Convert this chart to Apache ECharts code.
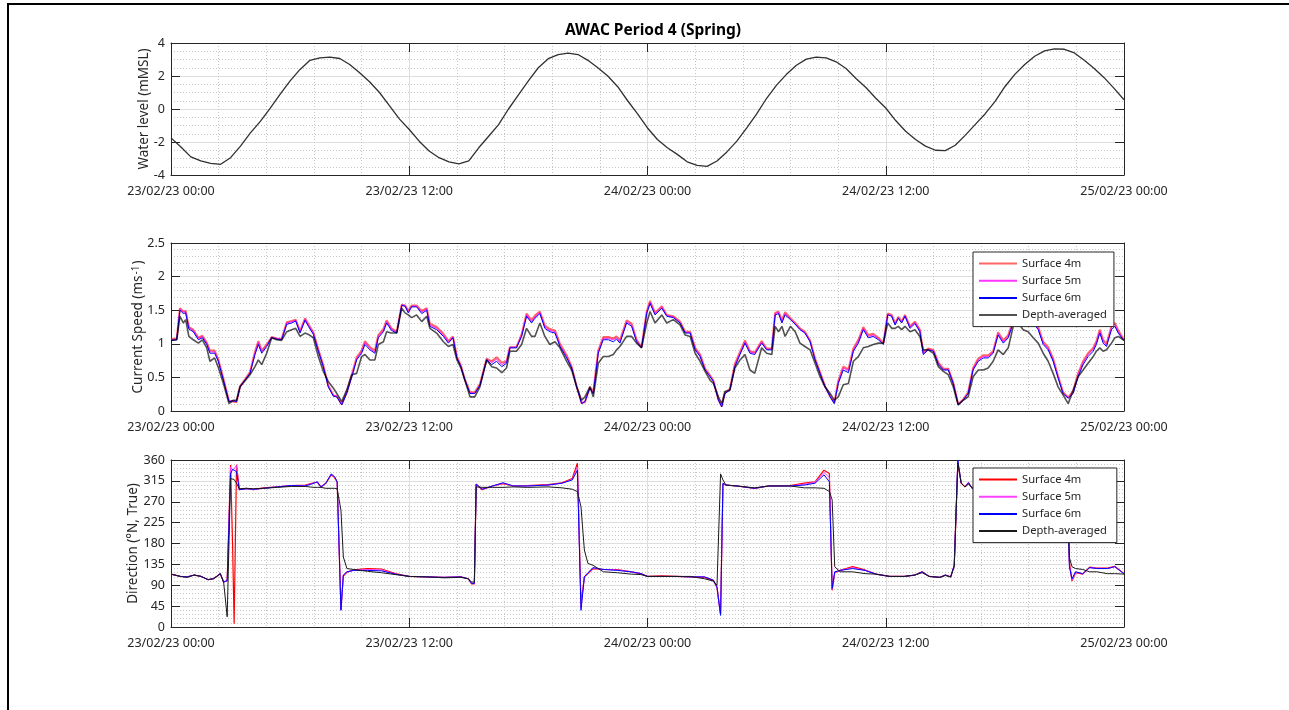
<!DOCTYPE html>
<html><head><meta charset="utf-8">
<script src="https://cdn.jsdelivr.net/npm/echarts@6/dist/echarts.min.js"></script>
<style>html,body{margin:0;padding:0;background:#fff}#c{width:1289px;height:710px}</style>
</head><body><div id="c"></div>
<script>
// ---------- DATA ----------
const titleText = 'AWAC Period 4 (Spring)';
const xTickLabels = ['23/02/23 00:00','23/02/23 12:00','24/02/23 00:00','24/02/23 12:00','25/02/23 00:00'];
const seriesNames = ['Surface 4m','Surface 5m','Surface 6m','Depth-averaged'];

// hours since 23/02/23 00:00
const levelHours = [0,0.5,1,1.5,2,2.5,3,3.5,4,4.5,5,5.5,6,6.5,7,7.5,8,8.5,9,9.5,
 10,10.5,11,11.5,12,12.5,13,13.5,14,14.5,15,15.5,16,16.5,17,17.5,18,18.5,19,19.5,
 20,20.5,21,21.5,22,22.5,23,23.5,24,24.5,25,25.5,26,26.5,27,27.5,28,28.5,29,29.5,
 30,30.5,31,31.5,32,32.5,33,33.5,34,34.5,35,35.5,36,36.5,37,37.5,38,38.5,39,39.5,
 40,40.5,41,41.5,42,42.5,43,43.5,44,44.5,45,45.5,46,46.5,47,47.5,48];
const waterLevel = [-1.75,-2.3,-2.9,-3.15,-3.3,-3.35,-2.95,-2.25,-1.45,-0.75,
 0.05,0.9,1.7,2.4,2.95,3.1,3.15,3.06,2.7,2.2,
 1.65,1.0,0.2,-0.6,-1.24,-1.95,-2.55,-2.95,-3.2,-3.32,
 -3.15,-2.35,-1.65,-0.95,0.0,0.85,1.7,2.5,3.05,3.3,
 3.38,3.3,2.95,2.5,2.0,1.35,0.5,-0.3,-1.15,-1.85,
 -2.35,-2.75,-3.2,-3.42,-3.48,-3.15,-2.6,-1.95,-1.15,-0.3,
 0.65,1.45,2.1,2.65,3.02,3.15,3.1,2.86,2.45,1.85,
 1.3,0.65,0.06,-0.7,-1.35,-1.85,-2.25,-2.5,-2.52,-2.2,
 -1.6,-0.95,-0.3,0.45,1.35,2.1,2.7,3.2,3.52,3.65,
 3.62,3.4,2.95,2.45,1.9,1.25,0.56];

const speedHours = [0,0.29,0.45,0.62,0.74,0.9,1.12,1.38,1.58,1.8,
 1.96,2.2,2.38,2.64,2.92,3.14,3.3,3.48,3.73,3.98,
 4.23,4.4,4.57,4.82,5.07,5.32,5.57,5.83,6.08,6.28,
 6.5,6.75,6.92,7.17,7.42,7.67,7.92,8.18,8.35,8.6,
 8.85,9.1,9.35,9.6,9.77,10.02,10.27,10.44,10.7,10.86,
 11.1,11.37,11.62,11.79,11.95,12.12,12.37,12.63,12.88,13.04,
 13.38,13.72,13.97,14.2,14.4,14.6,14.8,15.06,15.3,15.56,
 15.9,16.15,16.4,16.66,16.9,17.07,17.4,17.66,17.91,18.16,
 18.33,18.58,18.83,19.08,19.34,19.59,19.93,20.18,20.43,20.68,
 20.85,21.1,21.27,21.52,21.77,22.03,22.28,22.44,22.61,22.95,
 23.2,23.45,23.7,23.96,24.13,24.38,24.72,24.97,25.3,25.64,
 25.9,26.15,26.4,26.65,26.9,27.15,27.32,27.57,27.74,27.9,
 28.15,28.4,28.66,28.91,29.16,29.4,29.75,30,30.26,30.43,
 30.6,30.77,30.93,31.2,31.44,31.68,31.93,32.19,32.44,32.69,
 32.94,33.2,33.41,33.61,33.86,34.12,34.37,34.62,34.87,35.12,
 35.37,35.63,35.88,36.1,36.3,36.47,36.63,36.8,36.97,37.22,
 37.47,37.72,37.89,38.14,38.4,38.65,38.9,39.15,39.4,39.65,
 39.9,40.15,40.4,40.66,40.91,41.16,41.41,41.66,41.92,42.17,
 42.42,42.67,42.92,43.17,43.43,43.68,43.93,44.18,44.43,44.68,
 44.93,45.19,45.44,45.69,45.94,46.19,46.45,46.61,46.78,46.95,
 47.12,47.37,47.54,47.71,47.96,48];
const speed4m = [1.07,1.08,1.53,1.48,1.49,1.25,1.21,1.09,1.12,1.02,
 0.90,0.90,0.77,0.48,0.15,0.14,0.13,0.37,0.47,0.58,
 0.88,1.04,0.90,0.99,1.10,1.08,1.07,1.32,1.34,1.36,
 1.19,1.38,1.29,1.17,0.92,0.68,0.38,0.23,0.22,0.10,
 0.28,0.53,0.80,0.90,1.04,0.95,0.90,1.13,1.22,1.35,
 1.23,1.18,1.58,1.57,1.49,1.57,1.57,1.49,1.53,1.30,
 1.25,1.15,1.04,1.11,0.81,0.68,0.47,0.28,0.28,0.40,
 0.78,0.74,0.80,0.72,0.74,0.95,0.95,1.14,1.45,1.35,
 1.42,1.48,1.27,1.22,1.20,1.00,0.83,0.66,0.37,0.12,
 0.13,0.36,0.28,0.90,1.10,1.10,1.08,1.11,1.05,1.35,
 1.30,1.06,0.95,1.48,1.64,1.46,1.56,1.43,1.41,1.33,
 1.18,1.18,0.94,0.84,0.63,0.53,0.45,0.17,0.07,0.27,
 0.33,0.70,0.88,1.05,0.89,0.87,1.04,0.93,0.93,1.46,
 1.48,1.35,1.47,1.38,1.31,1.23,1.18,1.05,0.78,0.58,
 0.37,0.22,0.12,0.45,0.66,0.62,0.93,1.06,1.25,1.13,
 1.15,1.09,1.01,1.45,1.43,1.30,1.40,1.33,1.43,1.26,
 1.33,1.21,0.87,0.93,0.91,0.72,0.63,0.63,0.42,0.10,
 0.17,0.28,0.64,0.78,0.83,0.83,0.89,1.17,1.05,1.13,
 1.35,1.44,1.42,1.30,1.35,1.25,1.03,0.95,0.78,0.52,
 0.28,0.20,0.30,0.56,0.74,0.86,0.94,1.04,1.21,1.06,
 1.00,1.26,1.31,1.20,1.08,1.07];
const speed5m = [1.06,1.07,1.52,1.47,1.48,1.24,1.20,1.08,1.11,1.01,
 0.88,0.88,0.76,0.47,0.15,0.15,0.14,0.37,0.47,0.57,
 0.86,1.02,0.88,0.98,1.10,1.08,1.07,1.31,1.33,1.35,
 1.18,1.37,1.28,1.16,0.91,0.67,0.37,0.23,0.22,0.10,
 0.27,0.52,0.78,0.88,1.02,0.93,0.88,1.11,1.20,1.33,
 1.22,1.17,1.58,1.57,1.48,1.56,1.56,1.47,1.52,1.28,
 1.23,1.13,1.03,1.10,0.80,0.67,0.47,0.27,0.27,0.39,
 0.77,0.72,0.77,0.69,0.73,0.95,0.95,1.13,1.43,1.33,
 1.40,1.47,1.25,1.20,1.18,0.98,0.81,0.65,0.37,0.12,
 0.14,0.35,0.27,0.88,1.08,1.08,1.06,1.09,1.03,1.33,
 1.28,1.05,0.95,1.47,1.62,1.45,1.55,1.42,1.40,1.32,
 1.17,1.17,0.93,0.83,0.62,0.52,0.45,0.17,0.07,0.27,
 0.32,0.68,0.86,1.03,0.88,0.86,1.03,0.92,0.92,1.45,
 1.47,1.33,1.45,1.37,1.30,1.22,1.17,1.04,0.77,0.57,
 0.37,0.22,0.12,0.43,0.64,0.60,0.91,1.04,1.23,1.11,
 1.13,1.08,1.00,1.44,1.42,1.29,1.39,1.32,1.42,1.25,
 1.32,1.20,0.86,0.92,0.90,0.71,0.62,0.62,0.42,0.10,
 0.17,0.27,0.63,0.76,0.81,0.81,0.88,1.15,1.03,1.11,
 1.33,1.42,1.40,1.28,1.33,1.23,1.01,0.93,0.76,0.51,
 0.27,0.20,0.28,0.54,0.72,0.84,0.92,1.02,1.19,1.04,
 0.98,1.24,1.29,1.18,1.07,1.06];
const speed6m = [1.05,1.06,1.50,1.45,1.46,1.22,1.18,1.06,1.09,0.99,
 0.86,0.86,0.74,0.46,0.14,0.15,0.14,0.36,0.46,0.56,
 0.84,0.99,0.86,0.96,1.09,1.07,1.06,1.29,1.31,1.34,
 1.16,1.35,1.26,1.14,0.89,0.66,0.36,0.22,0.21,0.09,
 0.26,0.50,0.76,0.86,0.99,0.91,0.86,1.09,1.18,1.31,
 1.20,1.16,1.57,1.56,1.46,1.55,1.55,1.45,1.50,1.26,
 1.21,1.11,1.01,1.09,0.79,0.66,0.46,0.26,0.26,0.38,
 0.76,0.69,0.74,0.66,0.71,0.94,0.94,1.11,1.41,1.31,
 1.38,1.45,1.23,1.18,1.16,0.96,0.79,0.64,0.36,0.11,
 0.14,0.34,0.26,0.86,1.06,1.06,1.03,1.07,1.01,1.31,
 1.26,1.03,0.94,1.45,1.60,1.43,1.53,1.41,1.39,1.31,
 1.16,1.16,0.91,0.81,0.61,0.51,0.44,0.16,0.06,0.26,
 0.31,0.66,0.84,1.01,0.86,0.84,1.01,0.91,0.91,1.43,
 1.45,1.31,1.43,1.36,1.29,1.21,1.16,1.03,0.76,0.56,
 0.36,0.21,0.11,0.41,0.61,0.57,0.89,1.01,1.21,1.09,
 1.11,1.06,0.99,1.43,1.41,1.28,1.38,1.31,1.41,1.23,
 1.30,1.18,0.84,0.91,0.89,0.69,0.61,0.61,0.41,0.09,
 0.16,0.26,0.61,0.74,0.79,0.79,0.86,1.13,1.01,1.09,
 1.31,1.40,1.38,1.26,1.31,1.21,0.99,0.91,0.74,0.49,
 0.26,0.19,0.26,0.51,0.69,0.81,0.89,0.99,1.16,1.01,
 0.96,1.21,1.26,1.16,1.06,1.05];
const speedAvg = [1.05,1.06,1.41,1.31,1.36,1.11,1.06,1.01,1.06,0.94,
 0.74,0.79,0.65,0.41,0.11,0.16,0.16,0.36,0.45,0.54,
 0.66,0.76,0.69,0.86,1.09,1.06,1.05,1.18,1.21,1.23,
 1.11,1.16,1.14,1.09,0.81,0.59,0.44,0.34,0.26,0.14,
 0.31,0.54,0.56,0.81,0.84,0.76,0.76,0.99,1.03,1.18,
 1.16,1.16,1.53,1.46,1.43,1.39,1.43,1.33,1.41,1.23,
 1.16,1.03,0.96,0.99,0.76,0.64,0.46,0.21,0.21,0.36,
 0.76,0.66,0.64,0.57,0.64,0.89,0.89,0.99,1.23,1.11,
 1.11,1.31,1.11,0.99,1.03,0.94,0.74,0.61,0.36,0.16,
 0.21,0.36,0.21,0.71,0.81,0.81,0.84,0.91,0.96,1.11,
 1.11,1.01,0.94,1.31,1.48,1.31,1.43,1.31,1.36,1.28,
 1.13,1.11,0.86,0.74,0.59,0.46,0.41,0.21,0.11,0.29,
 0.31,0.64,0.76,0.84,0.61,0.56,0.94,0.86,0.84,1.26,
 1.18,1.26,1.11,1.26,1.18,1.01,0.96,0.91,0.71,0.51,
 0.36,0.26,0.16,0.21,0.39,0.41,0.74,0.81,0.94,0.96,
 0.99,1.01,1.01,1.31,1.23,1.23,1.26,1.21,1.26,1.18,
 1.21,1.11,0.91,0.91,0.86,0.66,0.59,0.54,0.36,0.09,
 0.16,0.21,0.51,0.61,0.61,0.64,0.74,0.91,0.84,0.94,
 1.26,1.31,1.21,1.18,1.09,1.01,0.86,0.74,0.56,0.36,
 0.24,0.11,0.31,0.51,0.61,0.71,0.81,0.89,0.94,0.89,
 0.91,1.01,1.09,1.11,1.06,1.05];

const dirHours = [0,0.47,0.82,1.17,1.52,1.87,2.13,2.3,2.48,2.65,
 2.83,3.0,3.1,3.18,3.3,3.44,3.79,4.14,4.66,5.36,
 6.06,6.76,7.2,7.37,7.55,7.8,8.07,8.24,8.37,8.45,
 8.56,8.68,8.86,9.2,9.9,10.6,11.3,12,12.87,13.75,
 14.6,14.97,15.14,15.28,15.37,15.67,16.2,16.72,17.24,17.94,
 18.99,19.69,20.21,20.47,20.65,20.82,21.0,21.26,21.78,22.48,
 23.18,23.67,24,24.72,25.44,26.16,26.87,27.32,27.5,27.68,
 27.8,27.95,28.5,29.39,30.1,31.19,31.9,32.44,32.89,33.16,
 33.3,33.43,33.7,34.33,34.96,35.5,36.2,36.93,37.47,37.83,
 38.19,38.73,39.0,39.27,39.45,39.63,39.8,39.99,40.17,40.35,
 41,42,43,44,45,45.15,45.25,45.38,45.56,45.92,
 46.27,46.63,47.17,47.53,48];
const dir4m = [114,109,108,112,109,102,104,109,115,97,
 100,349,180,7,350,296,299,296,300,302,
 305,306,311,312,302,310,328,322,312,310,
 38,110,118,123,126,125,115,109,108,107,
 108,104,93,93,308,296,304,309,304,305,
 307,311,320,353,50,108,115,126,124,124,
 119,115,109,110,109,108,107,100,85,28,
 308,306,304,299,304,305,310,313,338,331,
 79,117,122,130,123,114,109,109,112,119,
 109,107,112,108,133,353,310,302,311,299,
 302,305,303,306,300,298,140,99,117,114,
 129,127,127,131,115];
const dir5m = [114,109,108,112,109,102,104,109,115,97,
 100,345,338,340,348,296,298,296,299,302,
 305,305,310,313,302,310,329,323,313,311,
 37,111,119,122,124,123,114,109,108,107,
 108,104,94,94,308,297,304,310,304,304,
 306,310,318,345,42,108,116,127,124,123,
 119,115,109,109,109,108,108,101,86,26,
 309,306,304,299,304,304,308,312,333,322,
 81,118,122,128,122,114,109,109,112,119,
 109,107,112,108,133,356,310,302,311,299,
 302,305,303,306,300,298,135,101,118,115,
 128,127,126,130,115];
const dir6m = [114,109,108,112,109,102,104,109,115,97,
 100,330,340,342,335,296,298,297,299,302,
 305,304,310,313,302,310,330,324,313,312,
 36,112,119,122,122,121,114,109,108,107,
 108,104,94,94,308,297,304,311,304,304,
 306,310,317,338,36,108,117,128,124,122,
 119,115,109,109,109,108,108,101,86,25,
 310,306,304,299,304,304,306,310,328,313,
 83,119,122,126,122,114,109,109,112,119,
 109,107,112,108,133,360,310,302,311,299,
 302,305,303,306,300,298,130,104,119,115,
 128,126,126,130,115];
const dirAvg = [114,109,107,112,109,102,104,109,115,97,
 22,320,318,318,310,298,299,298,299,301,
 303,303,301,301,301,299,299,299,298,295,
 252,151,126,124,120,117,113,109,108,106,
 107,104,97,97,302,301,301,301,302,301,
 302,300,297,292,259,166,137,133,119,117,
 114,113,109,109,109,109,104,99,90,330,
 317,306,304,300,304,304,300,300,299,292,
 274,130,119,119,115,114,109,109,112,117,
 109,107,111,108,130,353,310,302,308,300,
 300,300,300,299,297,290,150,130,126,124,
 119,119,115,115,114];

// ---------- CHART ----------
const pairs = (hs, vs) => hs.map((h, i) => [h, vs[i]]);
const FONT = 'Noto Sans';
const AX = '#262626';
const TICKFS = 12.5;
const NAMEFS = 13.5;
// direction-panel series get a trailing space so each legend keeps its own line styles
const dirNames = seriesNames.map(n => n + ' ');

const grids = [
  {left: 171, right: 165, top: 43, height: 132},
  {left: 171, right: 165, top: 243, height: 168},
  {left: 171, right: 165, top: 460, height: 167}
];

function xAxes(gi) {
  return [
    {type: 'value', gridIndex: gi, min: 0, max: 48, interval: 12, position: 'bottom',
     axisLine: {show: true, onZero: false, lineStyle: {color: AX, width: 1}},
     axisTick: {show: true, inside: true, length: 9, lineStyle: {color: AX}},
     axisLabel: {show: true, margin: 10, color: AX, fontFamily: FONT, fontSize: TICKFS,
       showMinLabel: true, showMaxLabel: true,
       formatter: v => xTickLabels[Math.round(v / 12)]},
     splitLine: {show: true, lineStyle: {color: '#dedede', width: 1}},
     minorTick: {show: true, splitNumber: 5, length: 0, lineStyle: {opacity: 0}},
     minorSplitLine: {show: true, lineStyle: {color: '#c6c6c6', type: [1, 2], width: 1}}},
    {type: 'value', gridIndex: gi, min: 0, max: 48, interval: 12, position: 'top',
     axisLine: {show: true, onZero: false, lineStyle: {color: AX, width: 1}},
     axisTick: {show: true, inside: true, length: 9, lineStyle: {color: AX}},
     axisLabel: {show: false}, splitLine: {show: false}}
  ];
}
function yAxes(gi, min, max, interval, minorSplit, name, nameGap) {
  return [
    {type: 'value', gridIndex: gi, min, max, interval, position: 'left',
     name, nameLocation: 'middle', nameGap, nameMoveOverlap: false,
     nameTextStyle: {color: AX, fontFamily: FONT, fontSize: NAMEFS,
       rich: {sup: {fontSize: 10, fontFamily: FONT, color: AX, verticalAlign: 'top', padding: [0, 1, 0, 1]}}},
     axisLine: {show: true, onZero: false, lineStyle: {color: AX, width: 1}},
     axisTick: {show: true, inside: true, length: 9, lineStyle: {color: AX}},
     axisLabel: {show: true, margin: 6, color: AX, fontFamily: FONT, fontSize: TICKFS},
     splitLine: {show: true, lineStyle: {color: '#dedede', width: 1}},
     minorTick: {show: true, splitNumber: minorSplit, length: 0, lineStyle: {opacity: 0}},
     minorSplitLine: {show: true, lineStyle: {color: '#c6c6c6', type: [1, 2], width: 1}}},
    {type: 'value', gridIndex: gi, min, max, interval, position: 'right',
     axisLine: {show: true, onZero: false, lineStyle: {color: AX, width: 1}},
     axisTick: {show: true, inside: true, length: 9, lineStyle: {color: AX}},
     axisLabel: {show: false}, splitLine: {show: false}}
  ];
}

function line(name, xi, yi, data, color, width, z) {
  return {type: 'line', name, xAxisIndex: xi, yAxisIndex: yi, data,
    symbol: 'none', showSymbol: false, smooth: false, z: z || 2,
    lineStyle: {color, width}, itemStyle: {color}, emphasis: {disabled: true}};
}

const legendBase = {
  orient: 'vertical', left: 973, itemWidth: 38, itemHeight: 12, itemGap: 6.2,
  padding: [6, 7, 6, 5], backgroundColor: '#ffffff', borderColor: AX, borderWidth: 1,
  borderRadius: 0, selectedMode: false, z: 10,
  itemStyle: {opacity: 0},
  textStyle: {color: AX, fontFamily: FONT, fontSize: 11.2, padding: [0, 0, 0, 0]}
};

const option = {
  animation: false,
  backgroundColor: '#ffffff',
  title: {text: titleText, left: 648, top: 18, textAlign: 'center',
    textStyle: {color: '#000', fontFamily: FONT, fontSize: 15.5, fontWeight: 'bold'}},
  grid: grids,
  xAxis: [...xAxes(0), ...xAxes(1), ...xAxes(2)],
  yAxis: [
    ...yAxes(0, -4, 4, 2, 4, 'Water level (mMSL)', 20),
    ...yAxes(1, 0, 2.5, 0.5, 5, 'Current Speed (ms{sup|-1})', 26),
    ...yAxes(2, 0, 360, 45, 5, 'Direction (\u00B0N, True)', 31)
  ],
  legend: [
    Object.assign({}, legendBase, {top: 252, data: seriesNames.slice()}),
    Object.assign({}, legendBase, {top: 468, data: dirNames.slice()})
  ],
  series: [
    line('Water level', 0, 0, pairs(levelHours, waterLevel), '#303030', 1.3),
    line(seriesNames[0], 2, 2, pairs(speedHours, speed4m), 'rgba(255,0,0,0.6)', 2),
    line(seriesNames[1], 2, 2, pairs(speedHours, speed5m), 'rgba(255,0,255,0.8)', 1),
    line(seriesNames[2], 2, 2, pairs(speedHours, speed6m), '#0000ff', 1),
    line(seriesNames[3], 2, 2, pairs(speedHours, speedAvg), 'rgba(0,0,0,0.68)', 1.6),
    line(dirNames[0], 4, 4, pairs(dirHours, dir4m), '#ff0000', 1.2),
    line(dirNames[1], 4, 4, pairs(dirHours, dir5m), '#ff40ff', 1),
    line(dirNames[2], 4, 4, pairs(dirHours, dir6m), '#0000ff', 1),
    line(dirNames[3], 4, 4, pairs(dirHours, dirAvg), '#1a1a1a', 1)
  ],
  graphic: [
    {type: 'rect', left: 7, top: 3, shape: {width: 1282, height: 2}, style: {fill: '#000'}, silent: true},
    {type: 'rect', left: 7, top: 3, shape: {width: 2, height: 707}, style: {fill: '#000'}, silent: true}
  ]
};

const chart = echarts.init(document.getElementById('c'), null, {renderer: 'canvas'});
chart.setOption(option);
</script>
</body></html>
